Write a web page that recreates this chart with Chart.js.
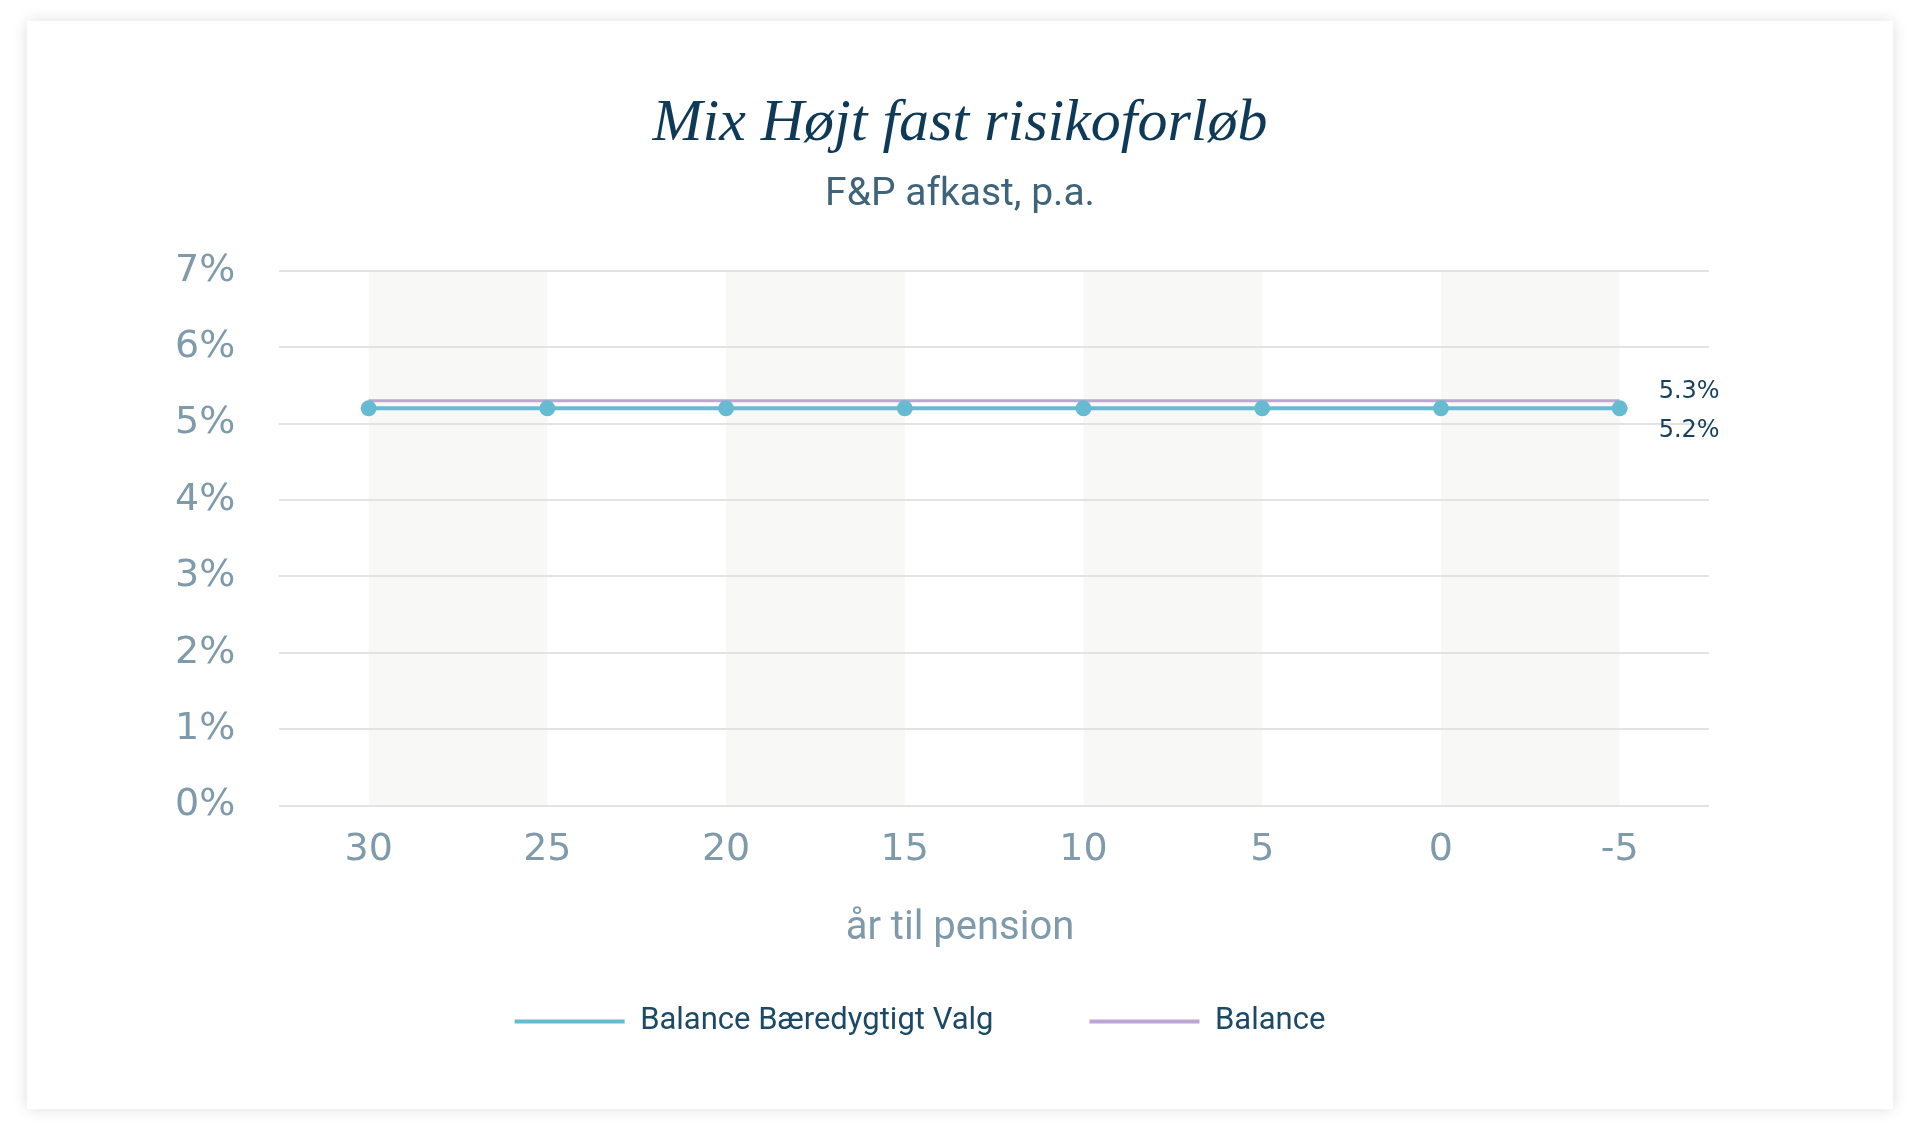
<!DOCTYPE html>
<html>
<head>
<meta charset="utf-8">
<script src="https://cdn.jsdelivr.net/npm/chart.js@4"></script>
<style>
  html, body { margin: 0; padding: 0; background: #fff; }
  #card {
    position: absolute; left: 27px; top: 21px; width: 1866px; height: 1088px;
    background: #fff; box-shadow: 0 0 14px rgba(0, 0, 0, 0.13);
  }
  #wrap { position: absolute; left: 0; top: 0; width: 1920px; height: 1143px; }
</style>
</head>
<body>
<div id="card"></div>
<div id="wrap"><canvas id="chart"></canvas></div>
<script>
const years = ["30", "25", "20", "15", "10", "5", "0", "-5"];
const baeredygtigt = [5.2, 5.2, 5.2, 5.2, 5.2, 5.2, 5.2, 5.2];
const balance = [5.3, 5.3, 5.3, 5.3, 5.3, 5.3, 5.3, 5.3];
const yTicks = [0, 1, 2, 3, 4, 5, 6, 7];
const xTitle = "år til pension";

const navy = "#163f5c";
const grey = "#7f9bab";

// light vertical bands behind every second interval
const bands = {
  id: "bands",
  beforeDraw(chart) {
    const { ctx, chartArea, scales: { x } } = chart;
    ctx.save();
    ctx.fillStyle = "#f8f8f6";
    for (let i = 0; i + 1 < years.length; i += 2) {
      const a = x.getPixelForValue(i);
      const b = x.getPixelForValue(i + 1);
      ctx.fillRect(a, chartArea.top, b - a, chartArea.bottom - chartArea.top);
    }
    ctx.restore();
  }
};

// title + subtitle are centred on the whole card, not on the padded area
const centreTitles = {
  id: "centreTitles",
  afterLayout(chart) {
    chart.boxes.forEach(b => {
      if (b.options && b.options.position === "top" && "text" in b.options) {
        b.left = 0;
        b.right = chart.width;
        b.width = chart.width;
      }
    });
  }
};

// value labels to the right of the last point, and the x axis title
const extras = {
  id: "extras",
  afterDatasetsDraw(chart) {
    const { ctx, chartArea } = chart;
    const shift = [22, -9];
    ctx.save();
    ctx.font = "24px 'DejaVu Sans'";
    ctx.fillStyle = navy;
    ctx.textAlign = "left";
    ctx.textBaseline = "middle";
    chart.data.datasets.forEach((ds, i) => {
      const pts = chart.getDatasetMeta(i).data;
      const p = pts[pts.length - 1];
      const v = ds.data[ds.data.length - 1];
      ctx.fillText(v.toFixed(1) + "%", p.x + 39, p.y + shift[i]);
    });
    ctx.font = "40px Roboto";
    ctx.fillStyle = grey;
    ctx.textAlign = "center";
    ctx.fillText(xTitle, chart.width / 2, chartArea.bottom + 123);
    ctx.restore();
  }
};

new Chart(document.getElementById("chart"), {
  type: "line",
  data: {
    labels: years,
    datasets: [{
      label: "Balance Bæredygtigt Valg",
      data: baeredygtigt,
      borderColor: "#67bbd0",
      backgroundColor: "#67bbd0",
      borderWidth: 4,
      pointRadius: 8,
      pointBackgroundColor: "#67bbd0",
      pointBorderWidth: 0,
      tension: 0
    }, {
      label: "Balance",
      data: balance,
      borderColor: "#bba6d4",
      backgroundColor: "#bba6d4",
      borderWidth: 3,
      pointRadius: 0,
      tension: 0
    }]
  },
  options: {
    responsive: true,
    maintainAspectRatio: false,
    animation: false,
    layout: { padding: { top: 88, left: 131, right: 211, bottom: 96 } },
    plugins: {
      title: {
        display: true,
        text: "Mix Højt fast risikoforløb",
        color: "#0e3a57",
        font: { family: "'Liberation Serif'", size: 60, style: "italic", weight: "normal", lineHeight: 1.2 },
        padding: { top: 0, bottom: 12 }
      },
      subtitle: {
        display: true,
        text: "F&P afkast, p.a.",
        color: "#3f6479",
        font: { family: "Roboto", size: 39, weight: "normal", lineHeight: 1.2 },
        padding: { top: 0, bottom: 52 }
      },
      legend: {
        position: "bottom",
        labels: {
          color: "#1c4a66",
          font: { family: "Roboto", size: 31 },
          boxWidth: 110,
          boxHeight: 4,
          padding: 96,
          generateLabels(chart) {
            return Chart.defaults.plugins.legend.labels.generateLabels(chart)
              .map(item => Object.assign(item, { lineWidth: 0 }));
          }
        }
      },
      tooltip: { enabled: false }
    },
    scales: {
      x: {
        offset: true,
        grid: { display: false, drawTicks: false },
        border: { display: false },
        ticks: {
          color: grey,
          padding: 22,
          font: { family: "'DejaVu Sans'", size: 38 }
        },
        afterFit(axis) {
          axis.height = 104.5;
        }
      },
      y: {
        min: 0,
        max: 7,
        afterBuildTicks(axis) {
          axis.ticks = yTicks.map(v => ({ value: v }));
        },
        grid: { color: "#e3e3e3", lineWidth: 2, drawTicks: false },
        border: { display: false },
        ticks: {
          color: grey,
          padding: 44,
          font: { family: "'DejaVu Sans'", size: 38 },
          callback: v => v + "%"
        }
      }
    }
  },
  plugins: [bands, centreTitles, extras]
});
</script>
</body>
</html>
